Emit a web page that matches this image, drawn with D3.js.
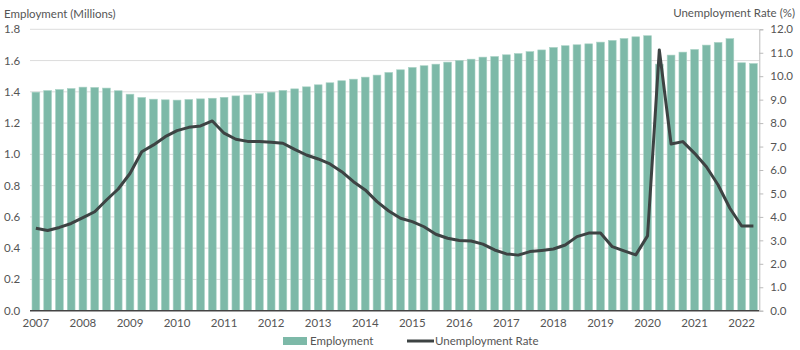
<!DOCTYPE html>
<html><head><meta charset="utf-8">
<script src="https://cdn.jsdelivr.net/npm/d3@7"></script>
<style>body{margin:0;background:#fff}svg{display:block}text{font-family:Lato,"Open Sans",sans-serif;fill:#555}</style>
</head><body><svg id="c" width="800" height="350"></svg>
<script>
const years = ["2007","2008","2009","2010","2011","2012","2013","2014","2015","2016","2017","2018","2019","2020","2021","2022"];
const quarters = [];
years.forEach(y => ["Q1","Q2","Q3","Q4"].forEach(q => { if (!(y==="2022" && (q==="Q3"||q==="Q4"))) quarters.push(y+q); }));
const employment = [1.398,1.408,1.415,1.421,1.430,1.428,1.424,1.407,1.385,1.364,1.353,1.349,1.347,1.351,1.355,1.359,
  1.365,1.374,1.380,1.389,1.398,1.409,1.419,1.432,1.445,1.458,1.471,1.481,1.494,1.507,1.524,1.541,
  1.556,1.567,1.577,1.590,1.601,1.609,1.622,1.626,1.637,1.645,1.657,1.668,1.684,1.695,1.701,1.707,
  1.718,1.729,1.741,1.752,1.759,1.577,1.635,1.654,1.671,1.699,1.716,1.740,1.586,1.581];
const unemployment = [3.52,3.42,3.55,3.72,3.97,4.22,4.72,5.19,5.85,6.78,7.07,7.42,7.68,7.82,7.88,8.09,
  7.57,7.31,7.22,7.22,7.18,7.14,6.88,6.64,6.47,6.26,5.93,5.50,5.15,4.65,4.25,3.94,
  3.80,3.58,3.26,3.09,2.99,2.97,2.84,2.59,2.42,2.37,2.52,2.57,2.63,2.80,3.16,3.31,
  3.31,2.73,2.55,2.38,3.19,11.12,7.11,7.21,6.71,6.14,5.36,4.37,3.61,3.61];
const leftTicks = [0,0.2,0.4,0.6,0.8,1.0,1.2,1.4,1.6,1.8];
const rightTicks = [0,1,2,3,4,5,6,7,8,9,10,11,12];

const svg = d3.select("#c");
const L = 30, R = 759.3, T = 29.3, B = 310.7;
const x = d3.scaleBand().domain(quarters).range([L, R]).paddingInner(0.34).paddingOuter(0.17);
const yL = d3.scaleLinear().domain([0, 1.8]).range([B, T]);
const yR = d3.scaleLinear().domain([0, 12]).range([B, T]);

// gridlines
svg.append("g").selectAll("line").data(leftTicks.filter(d => d > 0)).join("line")
  .attr("x1", L).attr("x2", R).attr("y1", d => yL(d)).attr("y2", d => yL(d))
  .attr("stroke", "#dcdcdc").attr("stroke-width", 1);

// left labels
svg.append("g").selectAll("text").data(leftTicks).join("text")
  .attr("x", 4).attr("y", d => yL(d)).attr("dy", "0.35em")
  .attr("font-size", 11.5).text(d => d.toFixed(1));

// bars
svg.append("g").selectAll("rect").data(employment).join("rect")
  .attr("x", (d, i) => x(quarters[i])).attr("width", x.bandwidth())
  .attr("y", d => yL(d)).attr("height", d => B - yL(d))
  .attr("fill", "#7db9a8").attr("stroke", "#a9d2c5").attr("stroke-width", 0.6);

// bottom axis line
svg.append("line").attr("x1", L).attr("x2", R).attr("y1", B).attr("y2", B)
  .attr("stroke", "#444").attr("stroke-width", 1.5);

// x labels
svg.append("g").selectAll("text").data(years).join("text")
  .attr("x", d => x(d + "Q1") + x.bandwidth() / 2).attr("y", 327)
  .attr("text-anchor", "middle").attr("font-size", 11.5).text(d => d);

// right axis
const ra = svg.append("g").attr("transform", `translate(${R},0)`)
  .call(d3.axisRight(yR).tickValues(rightTicks).tickSize(4).tickPadding(7).tickFormat(d3.format(".1f")));
ra.select(".domain").attr("stroke", "#bbb");
ra.selectAll(".tick line").attr("stroke", "#bbb");
ra.selectAll(".tick text").attr("font-size", 11.5).attr("fill", "#555").attr("font-family", "Lato");

// line
const line = d3.line().x((d, i) => x(quarters[i]) + x.bandwidth() / 2).y(d => yR(d));
svg.append("path").datum(unemployment).attr("d", line)
  .attr("fill", "none").attr("stroke", "#3d4343").attr("stroke-width", 3).attr("stroke-linejoin", "round");

// axis titles
svg.append("text").attr("x", 4).attr("y", 18).attr("font-size", 11.5).text("Employment (Millions)");
svg.append("text").attr("x", 795).attr("y", 17).attr("text-anchor", "end").attr("font-size", 11.5).text("Unemployment Rate (%)");

// legend
const lg = svg.append("g");
lg.append("rect").attr("x", 283).attr("y", 337).attr("width", 24).attr("height", 8).attr("fill", "#7db9a8");
lg.append("text").attr("x", 310).attr("y", 341).attr("dy", "0.35em").attr("font-size", 11.5).text("Employment");
lg.append("line").attr("x1", 407).attr("x2", 434).attr("y1", 341).attr("y2", 341).attr("stroke", "#3d4343").attr("stroke-width", 3);
lg.append("text").attr("x", 435).attr("y", 341).attr("dy", "0.35em").attr("font-size", 11.5).text("Unemployment Rate");
</script></body></html>
